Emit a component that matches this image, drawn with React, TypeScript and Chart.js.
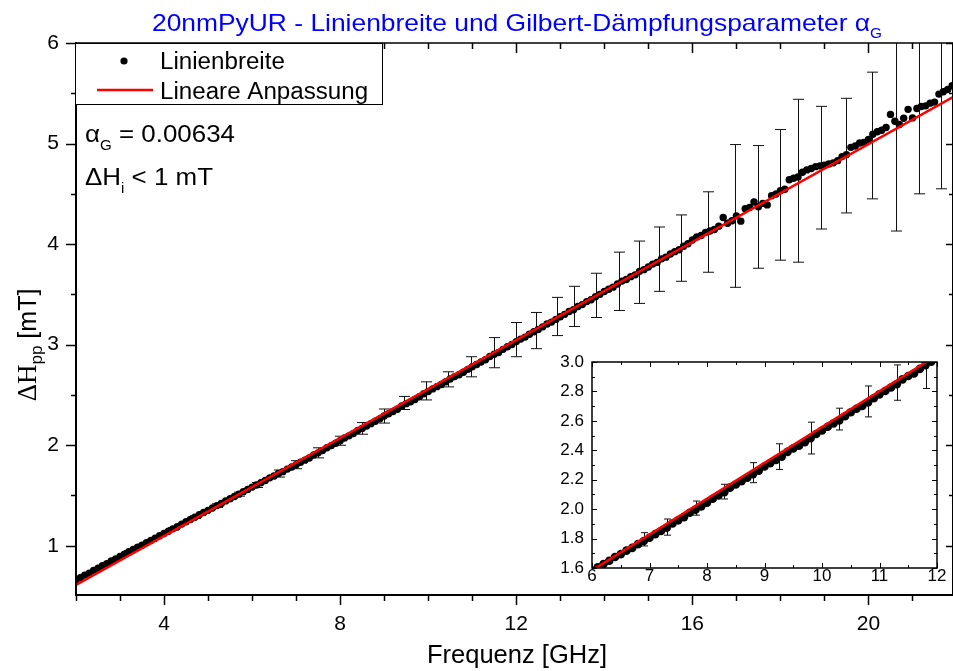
import React, { useEffect, useRef } from 'react';
import { Chart, registerables } from 'chart.js';

Chart.register(...registerables);

// Measured linewidth ΔH_pp [mT] versus microwave frequency [GHz]
const freqGHz = [
  2.0, 2.1, 2.2, 2.3, 2.4, 2.5, 2.6, 2.7, 2.8, 2.9,
  3.0, 3.1, 3.2, 3.3, 3.4, 3.5, 3.6, 3.7, 3.8, 3.9,
  4.0, 4.1, 4.2, 4.3, 4.4, 4.5, 4.6, 4.7, 4.8, 4.9,
  5.0, 5.1, 5.2, 5.3, 5.4, 5.5, 5.6, 5.7, 5.8, 5.9,
  6.0, 6.1, 6.2, 6.3, 6.4, 6.5, 6.6, 6.7, 6.8, 6.9,
  7.0, 7.1, 7.2, 7.3, 7.4, 7.5, 7.6, 7.7, 7.8, 7.9,
  8.0, 8.1, 8.2, 8.3, 8.4, 8.5, 8.6, 8.7, 8.8, 8.9,
  9.0, 9.1, 9.2, 9.3, 9.4, 9.5, 9.6, 9.7, 9.8, 9.9,
  10.0, 10.1, 10.2, 10.3, 10.4, 10.5, 10.6, 10.7, 10.8, 10.9,
  11.0, 11.1, 11.2, 11.3, 11.4, 11.5, 11.6, 11.7, 11.8, 11.9,
  12.0, 12.1, 12.2, 12.3, 12.4, 12.5, 12.6, 12.7, 12.8, 12.9,
  13.0, 13.1, 13.2, 13.3, 13.4, 13.5, 13.6, 13.7, 13.8, 13.9,
  14.0, 14.1, 14.2, 14.3, 14.4, 14.5, 14.6, 14.7, 14.8, 14.9,
  15.0, 15.1, 15.2, 15.3, 15.4, 15.5, 15.6, 15.7, 15.8, 15.9,
  16.0, 16.1, 16.2, 16.3, 16.4, 16.5, 16.6, 16.7, 16.8, 16.9,
  17.0, 17.1, 17.2, 17.3, 17.4, 17.5, 17.6, 17.7, 17.8, 17.9,
  18.0, 18.1, 18.2, 18.3, 18.4, 18.5, 18.6, 18.7, 18.8, 18.9,
  19.0, 19.1, 19.2, 19.3, 19.4, 19.5, 19.6, 19.7, 19.8, 19.9,
  20.0, 20.1, 20.2, 20.3, 20.4, 20.5, 20.6, 20.7, 20.8, 20.9,
  21.0, 21.1, 21.2, 21.3, 21.4, 21.5, 21.6, 21.7, 21.8, 21.9,
];

const linewidthMT = [
  0.662, 0.681, 0.708, 0.728, 0.755, 0.776, 0.801, 0.822, 0.848, 0.869,
  0.893, 0.915, 0.940, 0.962, 0.985, 1.006, 1.030, 1.052, 1.076, 1.099,
  1.121, 1.144, 1.168, 1.190, 1.215, 1.238, 1.261, 1.284, 1.308, 1.331,
  1.352, 1.376, 1.399, 1.421, 1.446, 1.467, 1.490, 1.513, 1.538, 1.559,
  1.583, 1.604, 1.627, 1.649, 1.675, 1.694, 1.718, 1.737, 1.762, 1.783,
  1.806, 1.830, 1.851, 1.873, 1.902, 1.924, 1.946, 1.975, 1.996, 2.019,
  2.044, 2.071, 2.093, 2.115, 2.146, 2.167, 2.190, 2.214, 2.238, 2.262,
  2.290, 2.313, 2.335, 2.357, 2.389, 2.413, 2.431, 2.455, 2.482, 2.511,
  2.534, 2.560, 2.582, 2.603, 2.631, 2.659, 2.682, 2.701, 2.725, 2.754,
  2.780, 2.803, 2.827, 2.849, 2.882, 2.905, 2.922, 2.953, 2.979, 3.002,
  3.030, 3.055, 3.075, 3.104, 3.128, 3.150, 3.177, 3.206, 3.224, 3.251,
  3.278, 3.301, 3.330, 3.347, 3.380, 3.398, 3.428, 3.447, 3.476, 3.500,
  3.528, 3.551, 3.572, 3.603, 3.632, 3.648, 3.676, 3.694, 3.729, 3.746,
  3.772, 3.801, 3.818, 3.853, 3.870, 3.902, 3.925, 3.944, 3.978, 4.004,
  4.040, 4.070, 4.085, 4.117, 4.130, 4.145, 4.178, 4.265, 4.208, 4.232,
  4.281, 4.228, 4.352, 4.365, 4.418, 4.372, 4.405, 4.390, 4.482, 4.498,
  4.530, 4.545, 4.640, 4.655, 4.668, 4.715, 4.738, 4.752, 4.770, 4.778,
  4.785, 4.796, 4.808, 4.830, 4.870, 4.890, 4.962, 4.975, 5.005, 5.012,
  5.040, 5.092, 5.118, 5.132, 5.160, 5.290, 5.222, 5.190, 5.252, 5.340,
  5.255, 5.348, 5.368, 5.375, 5.402, 5.412, 5.492, 5.515, 5.538, 5.575,
];

// Linear fit endpoints (Lineare Anpassung)
const fitFreq = [2.0, 21.92];
const fitWidth = [0.61, 5.461];

// Error bars shown in the main panel: frequency, centre, half-length
const errFreq = [
  2.2, 2.7, 3.2, 3.7, 4.2, 4.7, 5.2, 5.7, 6.1, 6.6, 7.0, 7.5, 8.0, 8.5, 9.0,
  9.46, 9.95, 10.45, 10.97, 11.49, 11.99, 12.45, 12.92, 13.32, 13.8, 14.33,
  14.79, 15.24, 15.74, 16.35, 16.96, 17.48, 17.98, 18.41, 18.93, 19.49,
  20.08, 20.62, 21.14, 21.64,
];
const errCenter = [
  0.707, 0.823, 0.94, 1.052, 1.168, 1.284, 1.399, 1.513, 1.604, 1.718, 1.806,
  1.924, 2.044, 2.167, 2.29, 2.42, 2.54, 2.655, 2.78, 2.92, 3.05, 3.14, 3.28,
  3.38, 3.49, 3.63, 3.72, 3.85, 3.96, 4.12, 4.28, 4.37, 4.49, 4.63, 4.76,
  4.88, 5.08, 5.2, 5.3, 5.45,
];
const errHalf = [
  0.008, 0.008, 0.01, 0.01, 0.012, 0.014, 0.018, 0.02, 0.025, 0.035, 0.04,
  0.05, 0.045, 0.058, 0.07, 0.065, 0.09, 0.075, 0.1, 0.15, 0.17, 0.18, 0.19,
  0.2, 0.22, 0.29, 0.31, 0.32, 0.33, 0.4, 0.71, 0.61, 0.65, 0.81, 0.61, 0.57,
  0.63, 1.07, 0.8, 0.9,
];

// Error bars shown in the inset
const insetErrFreq = [6.9, 7.3, 7.8, 8.3, 8.8, 9.25, 9.8, 10.3, 10.8, 11.3, 11.8];
const insetErrCenter = [1.795, 1.878, 2.007, 2.119, 2.248, 2.357, 2.483, 2.612, 2.732, 2.86, 2.97];
const insetErrHalf = [0.045, 0.055, 0.048, 0.05, 0.068, 0.087, 0.108, 0.074, 0.105, 0.12, 0.15];

// Axis ticks
const xTickLabels = [4, 8, 12, 16, 20];
const yTickLabels = [1, 2, 3, 4, 5, 6];
const insetXTickLabels = [6, 7, 8, 9, 10, 11, 12];
const insetYTickLabels = [1.6, 1.8, 2.0, 2.2, 2.4, 2.6, 2.8, 3.0];

const SANS = '"Liberation Sans", Arial, Helvetica, sans-serif';
const SERIF = '"Liberation Serif", "Times New Roman", serif';

type Run = { t: string; size: number; dy?: number; family?: string };

function runWidth(ctx: CanvasRenderingContext2D, r: Run, stretch: number) {
  ctx.font = `${r.size}px ${r.family || SANS}`;
  return ctx.measureText(r.t).width * stretch;
}

function drawRuns(
  ctx: CanvasRenderingContext2D,
  runs: Run[],
  x: number,
  y: number,
  align: 'left' | 'center' | 'right',
  color = '#000',
  stretch = 1,
  baseline: CanvasTextBaseline = 'alphabetic'
) {
  const widths = runs.map((r) => runWidth(ctx, r, stretch));
  const total = widths.reduce((a, b) => a + b, 0);
  let cx = align === 'center' ? x - total / 2 : align === 'right' ? x - total : x;
  runs.forEach((r, i) => {
    ctx.save();
    ctx.font = `${r.size}px ${r.family || SANS}`;
    ctx.fillStyle = color;
    ctx.textAlign = 'left';
    ctx.textBaseline = baseline;
    ctx.translate(cx, y + (r.dy || 0));
    ctx.scale(stretch, 1);
    ctx.fillText(r.t, 0, 0);
    ctx.restore();
    cx += widths[i];
  });
  return total;
}

function seg(ctx: CanvasRenderingContext2D, x1: number, y1: number, x2: number, y2: number) {
  ctx.beginPath();
  ctx.moveTo(x1, y1);
  ctx.lineTo(x2, y2);
  ctx.stroke();
}

function makeErrorBars(xs: number[], cs: number[], hs: number[], cap: number) {
  return {
    id: 'errorBars',
    beforeDatasetsDraw(chart: any) {
      const { ctx, chartArea: a, scales } = chart;
      const sx = scales.x;
      const sy = scales.y;
      ctx.save();
      ctx.beginPath();
      ctx.rect(a.left, a.top, a.right - a.left, a.bottom - a.top);
      ctx.clip();
      ctx.strokeStyle = '#111';
      ctx.lineWidth = 1;
      xs.forEach((f, i) => {
        const px = Math.round(sx.getPixelForValue(f)) + 0.5;
        const top = sy.getPixelForValue(cs[i] + hs[i]);
        const bot = sy.getPixelForValue(cs[i] - hs[i]);
        seg(ctx, px, top, px, bot);
        seg(ctx, px - cap, top, px + cap, top);
        seg(ctx, px - cap, bot, px + cap, bot);
      });
      ctx.restore();
    },
  };
}

const mainFrame = {
  id: 'mainFrame',
  afterDraw(chart: any) {
    const { ctx, chartArea: a, scales } = chart;
    const sx = scales.x;
    const sy = scales.y;
    ctx.save();
    ctx.strokeStyle = '#000';

    // axis lines
    ctx.lineWidth = 2;
    seg(ctx, a.left, a.top - 1, a.left, a.bottom + 1);
    seg(ctx, a.left - 1, a.bottom, a.right, a.bottom);
    seg(ctx, a.right, a.top, a.right, a.bottom);
    ctx.lineWidth = 1.5;
    seg(ctx, a.left, a.top, a.right, a.top);

    // x ticks: majors every 4 GHz, minors every 1 GHz
    ctx.lineWidth = 1.5;
    for (let f = Math.ceil(sx.min); f <= sx.max; f++) {
      const px = Math.round(sx.getPixelForValue(f)) + 0.5;
      const major = xTickLabels.includes(f);
      const len = major ? 10 : 6;
      seg(ctx, px, a.bottom, px, a.bottom + len);
      seg(ctx, px, a.top, px, a.top + len);
    }
    // y ticks: majors every 1 mT, minors every 0.5 mT
    for (let v = Math.ceil(sy.min * 2) / 2; v <= sy.max + 1e-9; v += 0.5) {
      const py = Math.round(sy.getPixelForValue(v)) + 0.5;
      const major = Math.abs(v - Math.round(v)) < 1e-9;
      seg(ctx, a.left - (major ? 10 : 5), py, a.left, py);
      seg(ctx, a.right - (major ? 7 : 4), py, a.right, py);
    }

    // tick labels
    xTickLabels.forEach((f) => {
      drawRuns(ctx, [{ t: String(f), size: 21 }], sx.getPixelForValue(f), 630, 'center');
    });
    yTickLabels.forEach((v) => {
      drawRuns(ctx, [{ t: String(v), size: 21 }], 59, sy.getPixelForValue(v), 'right', '#000', 1, 'middle');
    });

    // axis titles
    drawRuns(ctx, [{ t: 'Frequenz [GHz]', size: 25.5 }], 517, 663, 'center');
    ctx.save();
    ctx.translate(36, 345);
    ctx.rotate(-Math.PI / 2);
    drawRuns(
      ctx,
      [
        { t: 'ΔH', size: 27, family: SERIF },
        { t: 'pp', size: 17, dy: 6 },
        { t: ' [mT]', size: 25 },
      ],
      0,
      0,
      'center'
    );
    ctx.restore();

    // chart title
    drawRuns(
      ctx,
      [
        { t: '20nmPyUR - Linienbreite und Gilbert-Dämpfungsparameter α', size: 24 },
        { t: 'G', size: 14, dy: 7 },
      ],
      517,
      31,
      'center',
      '#0000ff',
      1.1
    );

    // legend box
    ctx.fillStyle = '#fff';
    ctx.fillRect(75.5, 43.5, 307, 61);
    ctx.lineWidth = 1;
    ctx.strokeStyle = '#000';
    ctx.strokeRect(75.5, 43.5, 307, 61);
    ctx.fillStyle = '#000';
    ctx.beginPath();
    ctx.arc(124, 61, 3.6, 0, Math.PI * 2);
    ctx.fill();
    drawRuns(ctx, [{ t: 'Linienbreite', size: 23 }], 160, 69, 'left', '#000', 1.05);
    ctx.strokeStyle = '#ff0000';
    ctx.lineWidth = 2.5;
    seg(ctx, 97, 90, 153, 90);
    drawRuns(ctx, [{ t: 'Lineare Anpassung', size: 23 }], 160, 99, 'left', '#000', 1.05);

    // fit annotation
    drawRuns(
      ctx,
      [
        { t: 'α', size: 24 },
        { t: 'G', size: 14, dy: 8 },
        { t: ' = 0.00634', size: 24 },
      ],
      85,
      142,
      'left',
      '#000',
      1.08
    );
    drawRuns(
      ctx,
      [
        { t: 'ΔH', size: 24 },
        { t: 'i', size: 14, dy: 8 },
        { t: ' < 1 mT', size: 24 },
      ],
      85,
      185,
      'left',
      '#000',
      1.08
    );
    ctx.restore();
  },
};

const insetFrame = {
  id: 'insetFrame',
  beforeDraw(chart: any) {
    const { ctx, chartArea: a } = chart;
    ctx.save();
    ctx.fillStyle = '#fff';
    ctx.fillRect(a.left, a.top, a.right - a.left, a.bottom - a.top);
    ctx.restore();
  },
  afterDraw(chart: any) {
    const { ctx, chartArea: a, scales } = chart;
    const sx = scales.x;
    const sy = scales.y;
    ctx.save();
    ctx.strokeStyle = '#000';
    ctx.lineWidth = 1.5;
    ctx.strokeRect(a.left, a.top, a.right - a.left, a.bottom - a.top);

    ctx.lineWidth = 1;
    for (let f = sx.min; f <= sx.max + 1e-9; f += 0.5) {
      const px = Math.round(sx.getPixelForValue(f)) + 0.5;
      const major = Math.abs(f - Math.round(f)) < 1e-9;
      const len = major ? 5 : 3;
      seg(ctx, px, a.bottom, px, a.bottom - len);
      seg(ctx, px, a.top, px, a.top + len);
    }
    for (let k = 0; k <= 14; k++) {
      const v = 1.6 + k * 0.1;
      const py = Math.round(sy.getPixelForValue(v)) + 0.5;
      const len = k % 2 === 0 ? 5 : 3;
      seg(ctx, a.left, py, a.left + len, py);
      seg(ctx, a.right, py, a.right - len, py);
    }

    insetXTickLabels.forEach((f) => {
      drawRuns(ctx, [{ t: String(f), size: 17 }], sx.getPixelForValue(f), a.bottom + 13, 'center');
    });
    insetYTickLabels.forEach((v) => {
      drawRuns(ctx, [{ t: v.toFixed(1), size: 17 }], a.left - 8, sy.getPixelForValue(v), 'right', '#000', 1, 'middle');
    });
    ctx.restore();
  },
};

function buildDatasets(radius: number) {
  const points = freqGHz.map((f, i) => ({ x: f, y: linewidthMT[i] }));
  const fit = fitFreq.map((f, i) => ({ x: f, y: fitWidth[i] }));
  return [
    {
      label: 'Lineare Anpassung',
      data: fit,
      showLine: true,
      borderColor: '#ff0000',
      borderWidth: 2.5,
      pointRadius: 0,
      order: 0,
    },
    {
      label: 'Linienbreite',
      data: points,
      showLine: false,
      backgroundColor: '#000',
      borderWidth: 0,
      pointRadius: radius,
      pointBorderWidth: 0,
      order: 1,
    },
  ];
}

export default function App() {
  const mainRef = useRef<HTMLCanvasElement | null>(null);
  const insetRef = useRef<HTMLCanvasElement | null>(null);

  useEffect(() => {
    if (!mainRef.current || !insetRef.current) return;
    const main = new Chart(mainRef.current, {
      type: 'scatter',
      data: { datasets: buildDatasets(3.7) as any },
      options: {
        responsive: false,
        animation: false,
        devicePixelRatio: 1,
        events: [],
        layout: { padding: { left: 76, top: 43, right: 0, bottom: 76 } },
        scales: {
          x: { type: 'linear', min: 2, max: 21.92, display: false },
          y: { type: 'linear', min: 0.51, max: 6, display: false },
        },
        plugins: { legend: { display: false }, tooltip: { enabled: false } },
      },
      plugins: [makeErrorBars(errFreq, errCenter, errHalf, 5.5), mainFrame],
    });
    const inset = new Chart(insetRef.current, {
      type: 'scatter',
      data: { datasets: buildDatasets(4.3) as any },
      options: {
        responsive: false,
        animation: false,
        devicePixelRatio: 1,
        events: [],
        layout: { padding: { left: 52, top: 22, right: 16, bottom: 32 } },
        scales: {
          x: { type: 'linear', min: 6, max: 12, display: false },
          y: { type: 'linear', min: 1.6, max: 3.0, display: false },
        },
        plugins: { legend: { display: false }, tooltip: { enabled: false } },
      },
      plugins: [makeErrorBars(insetErrFreq, insetErrCenter, insetErrHalf, 3.5), insetFrame],
    });
    return () => {
      main.destroy();
      inset.destroy();
    };
  }, []);

  return (
    <div
      style={{
        position: 'fixed',
        left: 0,
        top: 0,
        width: 953,
        height: 671,
        overflow: 'hidden',
        background: '#fff',
      }}
    >
      <canvas
        ref={mainRef}
        width={957}
        height={671}
        style={{ position: 'absolute', left: 0, top: 0, width: 957, height: 671 }}
      />
      <canvas
        ref={insetRef}
        width={413}
        height={260}
        style={{ position: 'absolute', left: 540, top: 340, width: 413, height: 260 }}
      />
    </div>
  );
}
